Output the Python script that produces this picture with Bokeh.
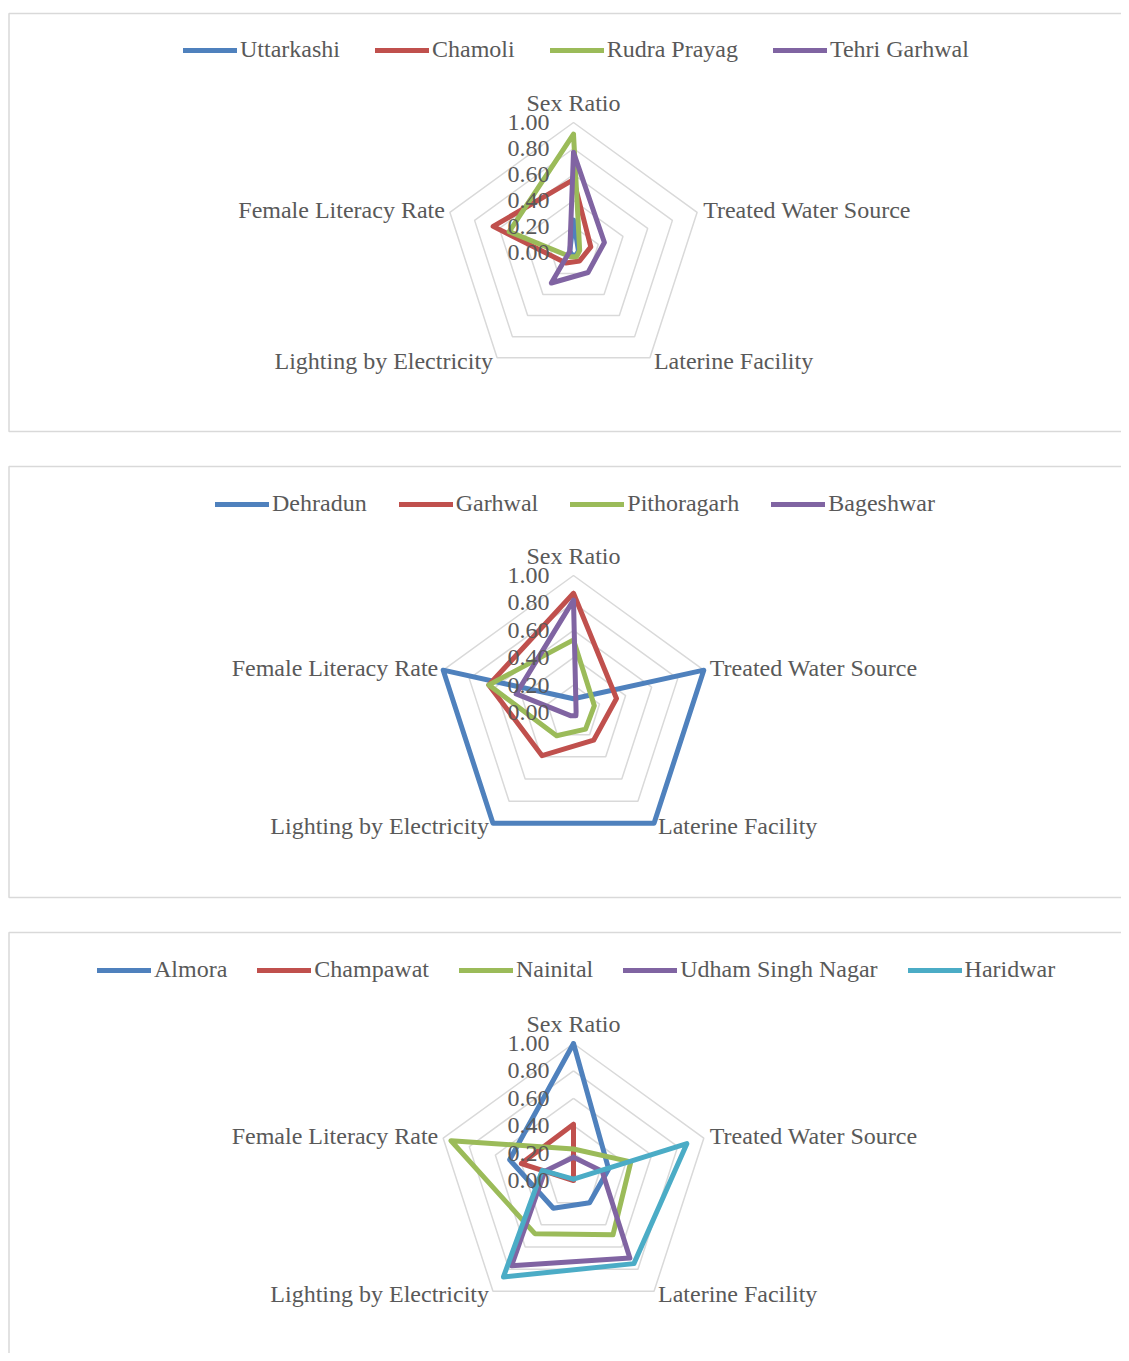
import numpy as np
from bokeh.plotting import figure
from bokeh.models import Range1d, Legend, LegendItem
from bokeh.core.properties import value
from bokeh.embed import file_html
from bokeh.resources import INLINE

# ---------------- data ----------------
axes_labels = ["Sex Ratio", "Treated Water Source", "Laterine Facility",
               "Lighting by Electricity", "Female Literacy Rate"]
tick_values = [0.0, 0.2, 0.4, 0.6, 0.8, 1.0]
tick_labels = ["0.00", "0.20", "0.40", "0.60", "0.80", "1.00"]

# panel 1
names_1 = ["Uttarkashi", "Chamoli", "Rudra Prayag", "Tehri Garhwal"]
uttarkashi = [0.25, 0.04, 0.03, 0.02, 0.03]
chamoli = [0.56, 0.14, 0.08, 0.10, 0.65]
rudra_prayag = [0.91, 0.05, 0.04, 0.04, 0.52]
tehri_garhwal = [0.77, 0.25, 0.19, 0.29, 0.03]

# panel 2
names_2 = ["Dehradun", "Garhwal", "Pithoragarh", "Bageshwar"]
dehradun = [0.10, 1.00, 1.00, 1.00, 1.00]
garhwal = [0.87, 0.33, 0.25, 0.39, 0.65]
pithoragarh = [0.53, 0.16, 0.15, 0.21, 0.65]
bageshwar = [0.82, 0.02, 0.03, 0.03, 0.44]

# panel 3
names_3 = ["Almora", "Champawat", "Nainital", "Udham Singh Nagar", "Haridwar"]
almora = [1.00, 0.27, 0.20, 0.25, 0.49]
champawat = [0.41, 0.00, 0.00, 0.00, 0.40]
nainital = [0.23, 0.44, 0.49, 0.48, 0.94]
udham_singh_nagar = [0.17, 0.22, 0.70, 0.77, 0.22]
haridwar = [0.01, 0.87, 0.75, 0.87, 0.24]

colors = ["#4F81BD", "#C0504D", "#9BBB59", "#8064A2", "#4BACC6"]

# ---------------- layout ----------------
FONT = value("Liberation Serif")
TXT = "#595959"
GRID = "#d9d9d9"
W, H = 1121, 1353

panels = [
    dict(names=names_1, series=[uttarkashi, chamoli, rudra_prayag, tehri_garhwal],
         cx=573, cy=252, R=130, box=(13, 431), leg=(183, 63), spacing=35),
    dict(names=names_2, series=[dehradun, garhwal, pithoragarh, bageshwar],
         cx=573, cy=712, R=137, box=(466, 897), leg=(215, 517), spacing=32),
    dict(names=names_3, series=[almora, champawat, nainital, udham_singh_nagar, haridwar],
         cx=573, cy=1180, R=137, box=(932, 1375), leg=(97, 983), spacing=30),
]

p = figure(width=W, height=H, output_backend="svg", toolbar_location=None,
           x_range=Range1d(0, W), y_range=Range1d(H, 0),
           x_axis_type=None, y_axis_type=None, min_border=0)
p.outline_line_color = None
p.background_fill_color = "white"

n = len(axes_labels)
theta = np.arange(n) * 2 * np.pi / n


def to_xy(vals, cx, cy, R):
    v = np.asarray(vals, dtype=float)
    xs = cx + v * R * np.sin(theta)
    ys = cy - v * R * np.cos(theta)
    return list(xs) + [xs[0]], list(ys) + [ys[0]]


for pn in panels:
    cx, cy, R = pn["cx"], pn["cy"], pn["R"]
    top, bot = pn["box"]
    # border box
    p.quad(left=[8.5], right=[1140], top=[top], bottom=[bot], fill_color=None,
           line_color=GRID, line_width=1.5)
    # grid rings
    gx, gy = [], []
    for t in tick_values[1:]:
        xs, ys = to_xy([t] * n, cx, cy, R)
        gx.append(xs)
        gy.append(ys)
    p.multi_line(xs=gx, ys=gy, line_color=GRID, line_width=1.5)

    # series
    items = []
    for i, (name, vals) in enumerate(zip(pn["names"], pn["series"])):
        xs, ys = to_xy(vals, cx, cy, R)
        r = p.line(xs, ys, line_color=colors[i], line_width=5,
                   line_join="round", line_cap="round")
        items.append(LegendItem(label=name, renderers=[r]))

    # tick labels
    p.text(x=[cx - 24] * len(tick_values), y=[cy - t * R for t in tick_values],
           text=tick_labels, text_font=FONT, text_font_size="24px",
           text_color=TXT, text_align="right", text_baseline="middle")

    # axis labels
    vx, vy = to_xy([1.0] * n, cx, cy, R)
    lx = [vx[0], vx[1] + 6, vx[2] + 4, vx[3] - 4, vx[4] - 5]
    ly = [vy[0] - 20, vy[1] - 2, vy[2] + 3, vy[3] + 3, vy[4] - 2]
    aligns = ["center", "left", "left", "right", "right"]
    for k in range(n):
        p.text(x=[lx[k]], y=[ly[k]], text=[axes_labels[k]], text_font=FONT,
               text_font_size="24px", text_color=TXT, text_align=aligns[k],
               text_baseline="middle")

    lgx, lgy = pn["leg"]
    leg = Legend(items=items, orientation="horizontal", location=(lgx, H - lgy),
                 label_text_font="Liberation Serif", label_text_font_size="24px",
                 label_text_color=TXT, glyph_width=54, glyph_height=24,
                 label_height=24, label_standoff=3, spacing=pn["spacing"],
                 padding=0, margin=0, border_line_color=None,
                 background_fill_alpha=0)
    p.add_layout(leg)

open("out.html", "w").write(file_html(p, INLINE))
